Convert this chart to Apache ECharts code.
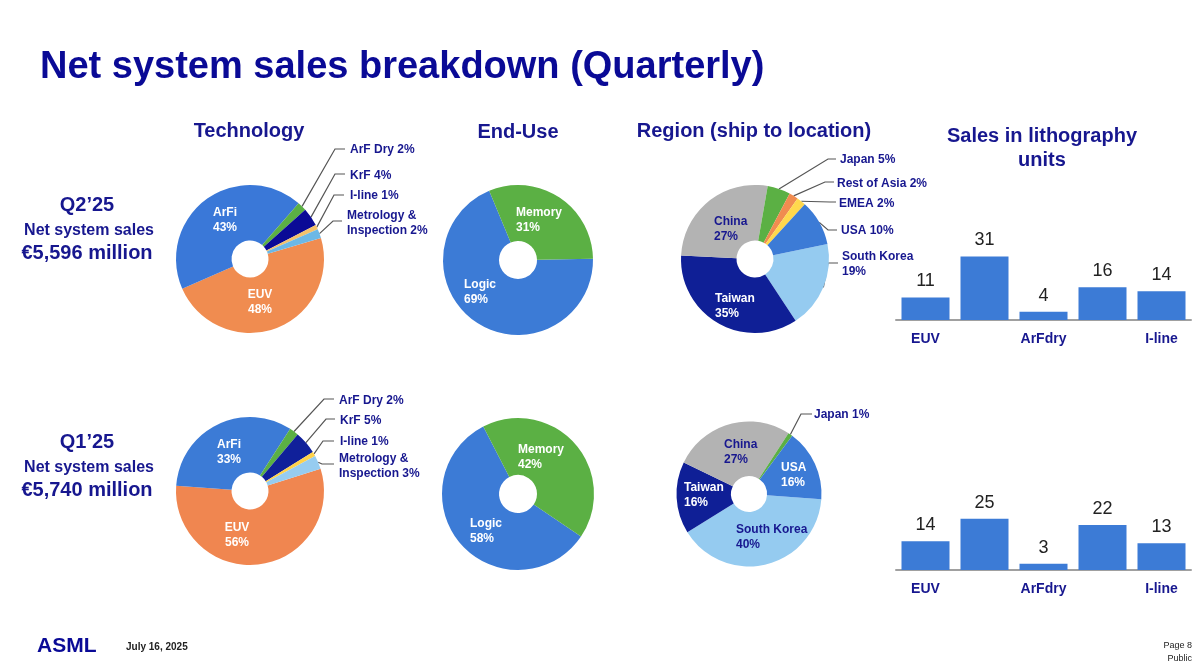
<!DOCTYPE html>
<html><head><meta charset="utf-8">
<style>html,body{margin:0;padding:0;background:#fff}#c{width:1200px;height:668px}</style>
<script src="https://cdn.jsdelivr.net/npm/echarts@6/dist/echarts.min.js"></script>
</head><body><div id="c"></div>
<script>
// ---------- data ----------
const techNamesQ2 = ['EUV','ArFi','ArF Dry','KrF','I-line','Metrology &\nInspection'];
const techValuesQ2 = [48,43,2,4,1,2];
const techNamesQ1 = ['EUV','ArFi','ArF Dry','KrF','I-line','Metrology &\nInspection'];
const techValuesQ1 = [56,33,2,5,1,3];
const useNames = ['Logic','Memory'];
const useValuesQ2 = [69,31];
const useValuesQ1 = [58,42];
const regionNamesQ2 = ['South Korea','Taiwan','China','Japan','Rest of Asia','EMEA','USA'];
const regionValuesQ2 = [19,35,27,5,2,2,10];
const regionNamesQ1 = ['South Korea','Taiwan','China','Japan','USA'];
const regionValuesQ1 = [40,16,27,1,16];
const unitCategories = ['EUV','ArFi','ArFdry','KrF','I-line'];
const unitsQ2 = [11,31,4,16,14];
const unitsQ1 = [14,25,3,22,13];

// ---------- colours ----------
const NAVY='#17178f', TITLE='#0a0a96', WHITE='#ffffff';
const techColorsQ2=['#F08C50','#3A78D8','#5BB044','#0A0A96','#F4C26C','#6CB8E6'];
const techColorsQ1=['#F08650','#3C7BD6','#5BB044','#10209A','#FFD24A','#96CCF0'];
const useColors=['#3C7BD6','#5BB044'];
const regionColorsQ2=['#95CBF0','#0F1F96','#B3B3B3','#5BB044','#F08C50','#FFD84D','#3C7BD6'];
const regionColorsQ1=['#95CBF0','#0F1F96','#B3B3B3','#5BB044','#3C7BD6'];

// ---------- label placement (text anchors and leader-line bends, by slice) ----------
const inn=(x,y,color,align)=>({x,y,color,align:align||'left',fmt:'{b}\n{c}%'});
const out=(x,y,bend,end,fmt)=>({x,y,color:NAVY,align:'left',fmt:fmt||'{b} {c}%',line:[bend,end]});
const techLayoutQ2=[inn(260,302,WHITE,'center'),inn(225,220,WHITE,'center'),
  out(350,150,[335,149],[345,149]),out(350,176,[335,174],[345,174]),out(350,196,[334,195],[344,195]),out(347,223,[333,221],[342,221])];
const techLayoutQ1=[inn(237,535,WHITE,'center'),inn(229,452,WHITE,'center'),
  out(339,401,[324,399],[334,399]),out(340,421,[326,419],[335,419]),out(340,442,[323,441],[334,441]),out(339,466,[322,464],[334,464])];
const useLayoutQ2=[inn(464,292,WHITE),inn(516,220,WHITE)];
const useLayoutQ1=[inn(470,531,WHITE),inn(518,457,WHITE)];
const regionLayoutQ2=[out(842,264,[828,263],[838,263],'{b}\n{c}%'),inn(715,306,WHITE),inn(714,229,NAVY),
  out(840,160,[828,159],[836,159]),out(837,184,[825,182],[834,182]),out(839,204,[830,202],[836,202]),out(841,231,[828,230],[837,230])];
const regionLayoutQ1=[inn(736,537,NAVY),inn(684,495,WHITE),inn(724,452,NAVY),out(814,415,[801,414],[812,414]),inn(781,475,WHITE)];

function pie(center,radius,startAngle,names,values,colors,layout){
  return {type:'pie',center,radius,startAngle,clockwise:true,avoidLabelOverlap:false,silent:true,
    data:names.map((n,i)=>({name:n,value:values[i],itemStyle:{color:colors[i]},
      label:{show:true,position:layout[i].line?'outside':'inside',formatter:layout[i].fmt,color:layout[i].color,
             fontFamily:'Liberation Sans',fontWeight:'bold',fontSize:12,lineHeight:14.4,textBorderWidth:0,align:layout[i].align},
      labelLine:{show:!!layout[i].line,lineStyle:{color:'#555',width:1.2},smooth:false}})),
    labelLayout:p=>{const s=layout[p.dataIndex];const r={x:s.x,y:s.y,align:s.align,verticalAlign:'middle'};
      if(s.line&&p.labelLinePoints)r.labelLinePoints=[p.labelLinePoints[0],s.line[0],s.line[1]];return r;}
  };
}
function bar(gridIndex,values){
  return {type:'bar',xAxisIndex:gridIndex,yAxisIndex:gridIndex,data:values,barWidth:48,silent:true,
    itemStyle:{color:'#3C7BD6'},label:{show:true,position:'top',distance:7,color:'#222',fontFamily:'Liberation Sans',fontSize:18}};
}
function xAxis(gridIndex){
  return {type:'category',gridIndex,data:unitCategories,axisTick:{show:false},axisLine:{lineStyle:{color:'#a0a0a0',width:2}},
    axisLabel:{color:NAVY,fontFamily:'Liberation Sans',fontWeight:'bold',fontSize:14,margin:12}};
}
function yAxis(gridIndex){return {type:'value',gridIndex,min:0,max:40,show:false,splitLine:{show:false}};}

const txt=(x,y,text,size,color,align,weight)=>({type:'text',x,y,silent:true,
  style:{text,fill:color,font:(weight||'bold')+' '+size+'px "Liberation Sans"',textAlign:align||'center',textVerticalAlign:'middle'}});

const chart=echarts.init(document.getElementById('c'),null,{renderer:'canvas'});
chart.setOption({
  animation:false,backgroundColor:'#fff',
  grid:[{left:896,top:238,width:295,height:82},{left:896,top:488,width:295,height:82}],
  xAxis:[xAxis(0),xAxis(1)],yAxis:[yAxis(0),yAxis(1)],
  series:[
    bar(0,unitsQ2),bar(1,unitsQ1),
    pie([250,259],[18.5,74],16.5,techNamesQ2,techValuesQ2,techColorsQ2,techLayoutQ2),
    pie([250,491],[18.5,74],17.5,techNamesQ1,techValuesQ1,techColorsQ1,techLayoutQ1),
    pie([518,260],[19,75],1,useNames,useValuesQ2,useColors,useLayoutQ2),
    pie([518,494],[19,76],326,useNames,useValuesQ1,useColors,useLayoutQ1),
    pie([755,259],[18.5,74],11.7,regionNamesQ2,regionValuesQ2,regionColorsQ2,regionLayoutQ2),
    pie([749,494],[18,72.5],-4.2,regionNamesQ1,regionValuesQ1,regionColorsQ1,regionLayoutQ1)
  ],
  graphic:[
    txt(40,68,'Net system sales breakdown (Quarterly)',38,TITLE,'left'),
    txt(249,131,'Technology',20,NAVY),txt(518,132,'End-Use',20,NAVY),txt(754,131,'Region (ship to location)',20,NAVY),
    txt(1042,136,'Sales in lithography',20,NAVY),txt(1042,160,'units',20,NAVY),
    txt(87,205,'Q2’25',20,NAVY),txt(89,231,'Net system sales',16,NAVY),txt(87,253,'€5,596 million',20,NAVY),
    txt(87,442,'Q1’25',20,NAVY),txt(89,468,'Net system sales',16,NAVY),txt(87,490,'€5,740 million',20,NAVY),
    txt(37,646,'ASML',21,TITLE,'left'),txt(126,647,'July 16, 2025',10,'#222','left'),
    txt(1192,646,'Page 8',9,'#222','right','normal'),txt(1192,659,'Public',9,'#222','right','normal')
  ]
});
</script></body></html>
